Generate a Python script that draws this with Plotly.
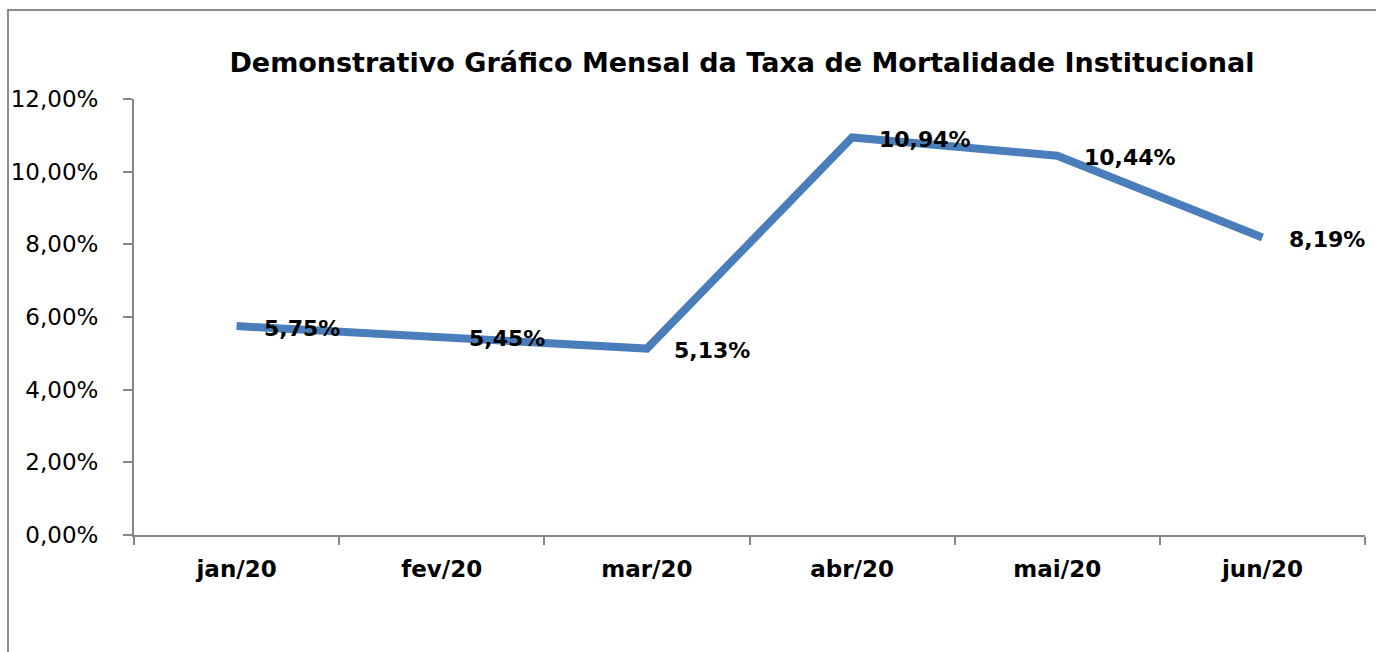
import plotly.graph_objects as go

meses = ["jan/20", "fev/20", "mar/20", "abr/20", "mai/20", "jun/20"]
taxas = [0.0575, 0.0545, 0.0513, 0.1094, 0.1044, 0.0819]
titulo = "Demonstrativo Gráfico Mensal da Taxa de Mortalidade Institucional"

W, H = 1376, 652
ml, mr, mt, mb = 134, 11, 99, 117
pw, ph = W - ml - mr, H - mt - mb

fig = go.Figure()
fig.add_trace(go.Scatter(
    x=meses, y=taxas, mode="lines",
    line=dict(color="#4A7EBB", width=8),
    hoverinfo="skip", showlegend=False,
))

for m, v in zip(meses, taxas):
    txt = f"{v*100:.2f}%".replace(".", ",")
    fig.add_annotation(
        x=m, y=v, text=txt, showarrow=False,
        xanchor="left", yanchor="middle", xshift=25, yshift=-2,
        font=dict(family="DejaVu Sans", size=22, color="#000000", weight="bold"),
    )

# outer frame like the Excel chart area
fig.add_shape(
    type="rect", xref="paper", yref="paper",
    x0=(8 - ml) / pw, x1=1.2, y0=-0.6, y1=1 + (mt - 10) / ph,
    line=dict(color="#8C8C8C", width=2), fillcolor="rgba(0,0,0,0)", layer="below",
)

fig.update_layout(
    width=W, height=H,
    margin=dict(l=ml, r=mr, t=mt, b=mb, autoexpand=False),
    paper_bgcolor="white", plot_bgcolor="white",
    separators=",.",
    title=dict(
        text=titulo, x=(742 - ml) / pw, xref="paper", xanchor="center",
        y=1 - 63 / H, yanchor="middle",
        font=dict(family="DejaVu Sans", size=27, color="#000000", weight="bold"),
    ),
    xaxis=dict(
        type="category", tickson="boundaries",
        showline=True, linecolor="#868686", linewidth=2,
        ticks="outside", ticklen=8, tickcolor="#868686", tickwidth=2,
        showgrid=False, zeroline=False,
        tickfont=dict(family="DejaVu Sans", size=23, color="#000000", weight="bold"),
        ticklabelstandoff=12,
        range=[-0.5, 5.5],
    ),
    yaxis=dict(
        range=[0, 0.12], dtick=0.02, tickformat=".2%",
        showline=True, linecolor="#868686", linewidth=2,
        ticks="outside", ticklen=9, tickcolor="#868686", tickwidth=2,
        showgrid=False, zeroline=False,
        tickfont=dict(family="DejaVu Sans", size=23, color="#000000"),
        ticklabelstandoff=20,
    ),
)

fig.write_html("out.html", config={"displayModeBar": False},
               post_script="document.body.style.margin='0';")
